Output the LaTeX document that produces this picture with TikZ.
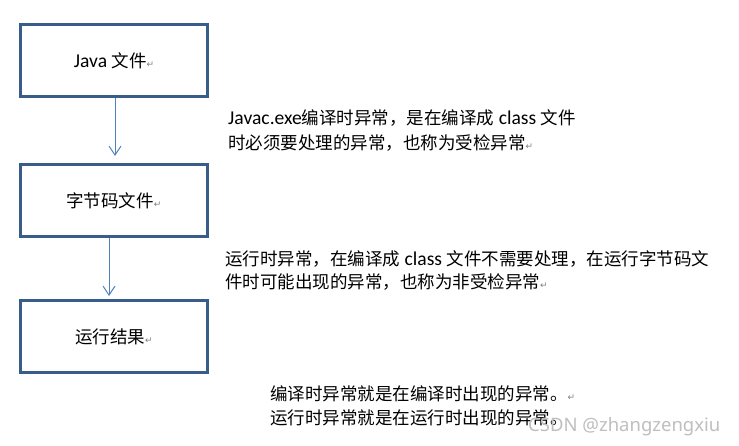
\documentclass[tikz,border=0pt]{standalone}
\usepackage{fontspec}
\setmainfont{Carlito}[Scale=1.12]
\newfontfamily\cjk{Noto Sans CJK SC}
\newfontfamily\djv{DejaVu Sans}
\newfontfamily\wmfont{Noto Sans}
\usetikzlibrary{arrows.meta}
\definecolor{boxblue}{HTML}{385D8A}
\definecolor{arrblue}{HTML}{4F81BD}
\newcommand{\retmark}{{\djv\fontsize{9}{9}\selectfont\color{gray}↵}}
\begin{document}
\begin{tikzpicture}[x=1pt,y=-1pt,
  every node/.style={font=\fontsize{17.5}{20}\selectfont},
  box/.style={draw=boxblue, line width=3pt, minimum width=187pt, minimum height=72pt, inner sep=0pt},
  txt/.style={anchor=west, inner sep=0pt},
  arr/.style={draw=arrblue, line width=1pt, -{Straight Barb[length=9pt,width=12pt]}}]
\useasboundingbox (0,0) rectangle (739,446);
\fill[white] (0,0) rectangle (739,446);
\node[box] (b1) at (114,60.5) {Java {\cjk 文件}\retmark};
\node[box] (b2) at (114,200.5) {{\cjk 字节码文件}\retmark};
\node[box] (b3) at (114,336.5) {{\cjk 运行结果}\retmark};
\draw[arr] ([xshift=1pt]b1.south) -- ([xshift=1pt,yshift=7pt]b2.north);
\draw[arr] ([xshift=-5pt]b2.south) -- ([xshift=-5pt,yshift=3pt]b3.north);
\node[txt] (t1a) at (228,118) {Javac.exe{\cjk 编译时异常，是在编译成} class {\cjk 文件}};
\node[txt] (t1b) at (228,143) {{\cjk 时必须要处理的异常，也称为受检异常}\retmark};
\node[txt] (t2a) at (225,259) {{\cjk 运行时异常，在编译成} class {\cjk 文件不需要处理，在运行字节码文}};
\node[txt] (t2b) at (225,282) {{\cjk 件时可能出现的异常，也称为非受检异常}\retmark};
\node[txt] (t3a) at (270,394) {{\cjk 编译时异常就是在编译时出现的异常。}\retmark};
\node[txt] (t3b) at (270,418) {{\cjk 运行时异常就是在运行时出现的异常。}};
\node[txt, text=gray!50, font=\wmfont\fontsize{18.5}{20}\selectfont] (wm) at (528,427) {CSDN @zhangzengxiu};
\end{tikzpicture}
\end{document}
